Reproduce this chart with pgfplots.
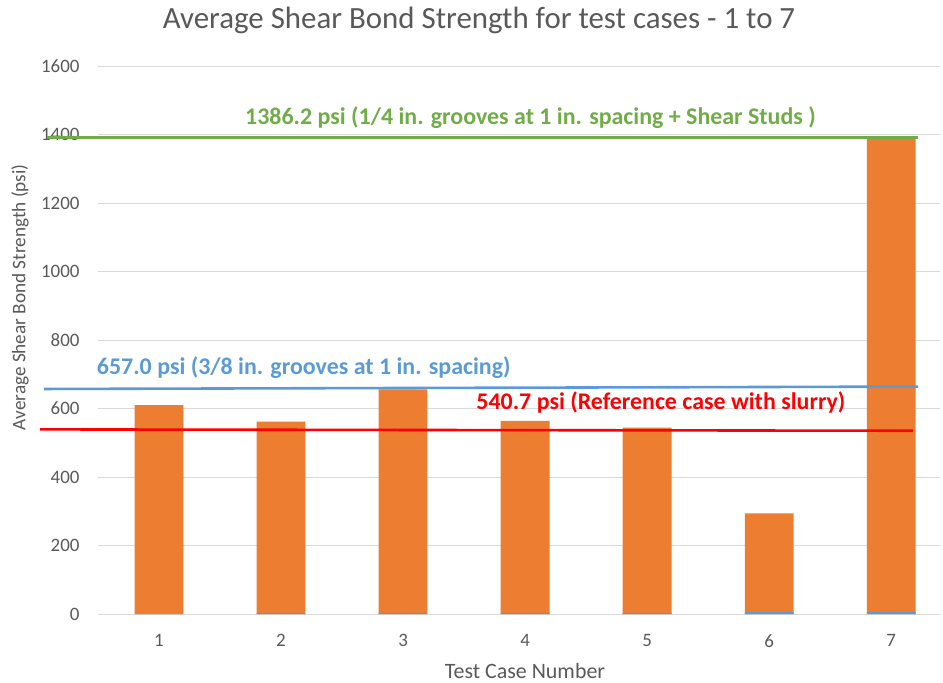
\documentclass[border=0pt]{standalone}
\usepackage{pgfplots}
\pgfplotsset{compat=1.18}
\usepackage{fontspec}
\setmainfont{Carlito}
\definecolor{cOrange}{HTML}{ED7D31}
\definecolor{cBlue}{HTML}{5B9BD5}
\definecolor{cGreen}{HTML}{70AD47}
\definecolor{cRed}{HTML}{FF0000}
\definecolor{cText}{HTML}{595959}
\definecolor{cGrid}{HTML}{D9D9D9}
\begin{document}
\begin{tikzpicture}
\begin{axis}[
  scale only axis,
  width=842bp, height=548bp,
  xmin=0.5, xmax=7.4,
  ymin=0, ymax=1600,
  ytick={0,200,...,1600},
  xtick={1,...,7},
  axis line style={draw=none},
  axis x line*=bottom,
  x axis line style={draw=cGrid, line width=1pt},
  y axis line style={draw=none},
  major tick length=0pt,
  ymajorgrids, grid style={cGrid, line width=0.8pt},
  clip=false,
  /pgf/number format/assume math mode=true,
  /pgf/number format/1000 sep={},
  tick label style={font=\fontsize{19}{19}\selectfont, text=cText},
  yticklabel style={xshift=-15bp},
  xticklabel style={yshift=-17bp},
  title={Average Shear Bond Strength for test cases - 1 to 7},
  title style={font=\fontsize{31}{31}\selectfont, text=cText, at={(rel axis cs:0.5,1)}, anchor=center, yshift=40bp, xshift=-40bp},
  xlabel={Test Case Number},
  xlabel style={font=\fontsize{22}{22}\selectfont, text=cText, at={(rel axis cs:0.5,0)}, anchor=center, yshift=-57bp, xshift=6bp},
  ylabel={Average Shear Bond Strength (psi)},
  ylabel style={font=\fontsize{19.3}{19.3}\selectfont, text=cText, at={(rel axis cs:-0.0926,0.578)}, anchor=center},
]
% orange bars (total heights)
\addplot[ybar, bar width=0.4, bar shift=0pt, fill=cOrange, draw=none] coordinates {
 (1,610) (2,561.5) (3,656) (4,564) (5,544) (6,294) (7,1390)};
% small blue base segments
\addplot[ybar, bar width=0.4, bar shift=0pt, fill=cBlue, draw=none] coordinates {
 (1,0) (2,3) (3,3) (4,3) (5,3) (6,6) (7,6)};
% reference lines
\addplot[sharp plot, no marks, cGreen, line width=2.6pt] coordinates {(0.082,1392) (7.22,1392)};
\addplot[sharp plot, no marks, cBlue, line width=2.6pt] coordinates {(0.057,657) (7.22,664)};
\addplot[sharp plot, no marks, cRed, line width=2.6pt] coordinates {(0.025,539) (7.18,535)};
% annotations
\node[anchor=base west, inner sep=0pt, text=cGreen, font=\fontsize{24}{24}\selectfont\bfseries] at (axis cs:1.705,1428) {1386.2 psi (1/4 in. grooves at 1 in. spacing + Shear Studs )};
\node[anchor=base west, inner sep=0pt, text=cBlue, font=\fontsize{24}{24}\selectfont\bfseries] at (axis cs:0.49,700) {657.0 psi (3/8 in. grooves at 1 in. spacing)};
\node[anchor=base west, inner sep=0pt, text=cRed, font=\fontsize{24}{24}\selectfont\bfseries] at (axis cs:3.6,598) {540.7 psi (Reference case with slurry)};
\end{axis}
\pgfresetboundingbox
\path (-98bp,-69bp) rectangle (845bp,614bp);
\end{tikzpicture}
\end{document}
